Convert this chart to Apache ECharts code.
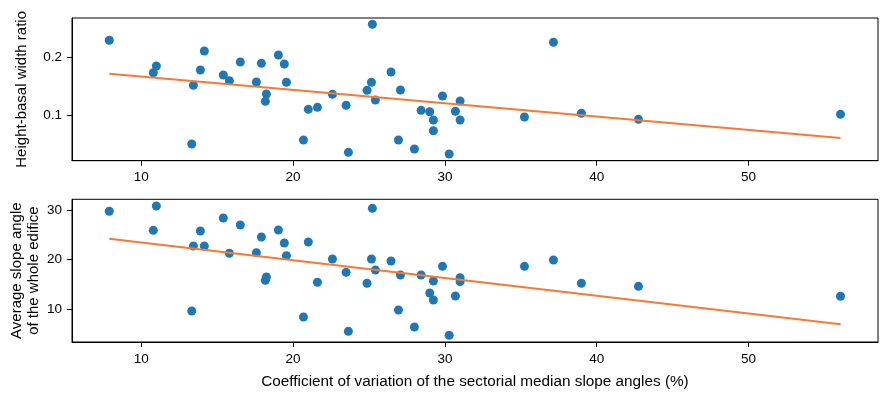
<!DOCTYPE html>
<html>
<head>
<meta charset="utf-8">
<script src="https://cdn.jsdelivr.net/npm/echarts@6/dist/echarts.min.js"></script>
<style>html,body{margin:0;padding:0;background:#fff;}#c{width:887px;height:395px;}</style>
</head>
<body>
<div id="c"></div>
<script>
// Coefficient of variation of the sectorial median slope angles (%)
const cvValues = [7.89,10.79,10.99,13.32,13.43,13.89,14.15,15.40,15.80,16.52,17.58,17.91,18.24,18.17,19.03,19.42,19.56,20.68,21.00,21.60,22.59,23.49,23.64,24.87,25.16,25.22,25.42,26.45,27.07,26.94,27.99,28.43,29.00,29.24,29.24,29.84,30.28,30.69,31.00,31.00,35.24,37.15,38.99,42.75,56.06];
// Height-basal width ratio
const ratioValues = [0.2304,0.1738,0.1855,0.0494,0.1518,0.1785,0.2117,0.1698,0.1599,0.1925,0.1576,0.1902,0.1366,0.1239,0.2047,0.1890,0.1571,0.0564,0.1099,0.1134,0.1361,0.1169,0.0349,0.1431,0.1571,0.2583,0.1262,0.1750,0.1436,0.0564,0.0407,0.1082,0.1058,0.0913,0.0726,0.1332,0.0319,0.1065,0.1244,0.0913,0.0965,0.2269,0.1030,0.0925,0.1012];
// Average slope angle of the whole edifice
const slopeValues = [29.74,25.89,30.81,9.60,22.73,25.76,22.73,28.38,21.25,26.97,21.38,24.55,16.46,15.79,25.96,23.33,20.77,8.38,23.54,15.39,20.10,17.41,5.49,15.19,20.10,30.34,17.88,19.70,16.87,9.80,6.36,16.87,13.23,15.66,11.82,18.62,4.69,12.63,16.33,15.52,18.62,19.90,15.19,14.58,12.57];
// Fitted trend lines (endpoints)
const fitRatio = [[7.89,0.172],[56.06,0.0599]];
const fitSlope = [[7.89,24.2],[56.06,6.91]];
// Tick labels
const xTicks = [10,20,30,40,50];
const ratioTicks = [0.1,0.2];
const slopeTicks = [10,20,30];

const font = 'Liberation Sans, Arial, sans-serif';
const ptsRatio = cvValues.map((x,i)=>[x, ratioValues[i]]);
const ptsSlope = cvValues.map((x,i)=>[x, slopeValues[i]]);

function xAxis(gi, showName){
  return {
    type:'value', gridIndex:gi, min:5.433, max:58.53,
    axisLine:{show:true, lineStyle:{color:'#000', width:1}},
    axisTick:{show:true, length:5, lineStyle:{color:'#000'}, customValues:xTicks},
    axisLabel:{color:'#000', fontSize:13.5, fontFamily:font, margin:10, customValues:xTicks},
    splitLine:{show:false},
    name: showName ? 'Coefficient of variation of the sectorial median slope angles (%)' : '',
    nameLocation:'middle', nameGap:32, nameMoveOverlap:false,
    nameTextStyle:{color:'#000', fontSize:15.3, fontFamily:font}
  };
}
function yAxis(gi, min, max, ticks, name, gap, fmt){
  return {
    type:'value', gridIndex:gi, min:min, max:max,
    axisLine:{show:true, lineStyle:{color:'#000', width:1}},
    axisTick:{show:true, length:5, lineStyle:{color:'#000'}, customValues:ticks},
    axisLabel:{color:'#000', fontSize:13.5, fontFamily:font, margin:10, customValues:ticks, formatter:fmt},
    splitLine:{show:false},
    name:name, nameLocation:'middle', nameRotate:90, nameGap:gap, nameMoveOverlap:false,
    nameTextStyle:{color:'#000', fontSize:15, fontFamily:font, lineHeight:17}
  };
}

const chart = echarts.init(document.getElementById('c'), null, {renderer:'canvas'});
chart.setOption({
  animation:false,
  backgroundColor:'#fff',
  grid:[
    {left:72, top:18, width:806, height:142.7, show:true, borderColor:'#000', borderWidth:1, backgroundColor:'transparent', containLabel:false, outerBoundsMode:'none'},
    {left:72, top:199.3, width:806, height:142.7, show:true, borderColor:'#000', borderWidth:1, backgroundColor:'transparent', containLabel:false, outerBoundsMode:'none'}
  ],
  xAxis:[xAxis(0,false), xAxis(1,true)],
  yAxis:[
    yAxis(0, 0.0203, 0.2693, ratioTicks, 'Height-basal width ratio', 42, v=>v.toFixed(1)),
    yAxis(1, 3.33, 32.16, slopeTicks, 'Average slope angle\nof the whole edifice', 30, v=>String(v))
  ],
  series:[
    {type:'scatter', xAxisIndex:0, yAxisIndex:0, data:ptsRatio, symbolSize:9, itemStyle:{color:'#1f77b4', opacity:1}, z:2},
    {type:'line', xAxisIndex:0, yAxisIndex:0, data:fitRatio, showSymbol:false, lineStyle:{color:'#f57a35', width:2}, z:3},
    {type:'scatter', xAxisIndex:1, yAxisIndex:1, data:ptsSlope, symbolSize:9, itemStyle:{color:'#1f77b4', opacity:1}, z:2},
    {type:'line', xAxisIndex:1, yAxisIndex:1, data:fitSlope, showSymbol:false, lineStyle:{color:'#f57a35', width:2}, z:3}
  ]
});
</script>
</body>
</html>
